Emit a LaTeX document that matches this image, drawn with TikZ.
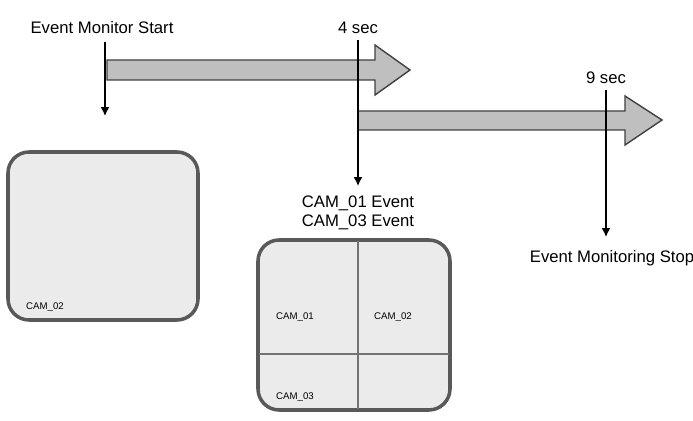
\documentclass[tikz,border=0pt]{standalone}
\usepackage{fontspec}
\setmainfont{Liberation Sans}
\begin{document}
\begin{tikzpicture}[x=0.02cm,y=-0.02cm,
  bigarrow/.style={fill=black!25,draw=black!75,line width=0.8pt},
  screen/.style={draw=black!65,line width=2pt,fill=black!8,rounded corners=12pt},
  lbl/.style={font=\fontsize{9.5}{11}\selectfont},
  small/.style={font=\fontsize{5.5}{6}\selectfont,anchor=west},
  tick/.style={line width=0.8pt,-{Latex[length=5pt,width=5pt]}}]
\usetikzlibrary{arrows.meta}
\useasboundingbox (0,0) rectangle (693,421);
% big arrows
\draw[bigarrow] (107,60) -- (375,60) -- (375,45) -- (410,70) -- (375,95) -- (375,80) -- (107,80) -- cycle;
\draw[bigarrow] (358,111) -- (625,111) -- (625,96) -- (662,120) -- (625,145) -- (625,130) -- (358,130) -- cycle;
% labels
\node[lbl] (start) at (102,28) {Event Monitor Start};
\node[lbl] (four) at (358,28) {4 sec};
\node[lbl] (nine) at (606,78) {9 sec};
\node[lbl,align=center] (ev) at (358,213) {CAM\_01 Event\\CAM\_03 Event};
\node[lbl] (stop) at (612,258) {Event Monitoring Stop};
\coordinate (s1) at (105,42); \coordinate (e1) at (105,116);
\coordinate (s2) at (358,40); \coordinate (e2) at (358,186);
\coordinate (s3) at (606,90); \coordinate (e3) at (606,237);
\draw[tick] (s1) -- (e1);
\draw[tick] (s2) -- (e2);
\draw[tick] (s3) -- (e3);
% screens
\node[screen,minimum width=190*0.02cm,minimum height=168*0.02cm] (scr1) at (103,236) {};
\node[small] at (20,307) {CAM\_02};
\node[screen,minimum width=192*0.02cm,minimum height=170*0.02cm] (scr2) at (354,325) {};
\draw[black!55,line width=0.6pt] (358,241) -- (358,409) (259,354) -- (449,354);
\node[small] at (270,317) {CAM\_01};
\node[small] at (368,317) {CAM\_02};
\node[small] at (270,397) {CAM\_03};
\end{tikzpicture}
\end{document}
